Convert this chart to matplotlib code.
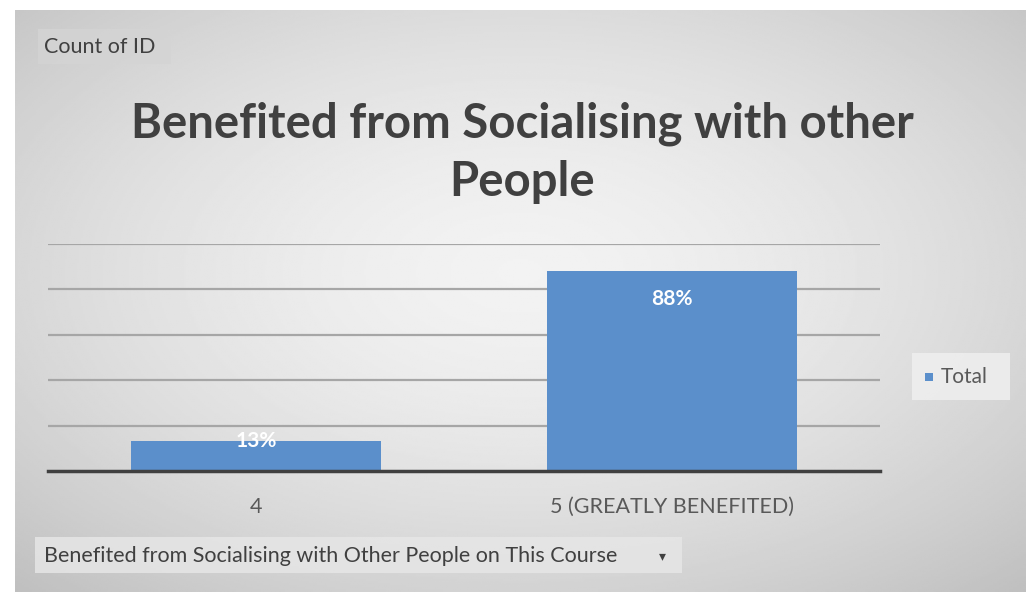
import numpy as np
import matplotlib
matplotlib.use("Agg")
import matplotlib.pyplot as plt
from matplotlib.patches import Rectangle

categories = ["4", "5 (GREATLY BENEFITED)"]
values = [13, 88]
series_name = "Total"
title = "Benefited from Socialising with other\nPeople"
field_button = "Count of ID"
filter_button = "Benefited from Socialising with Other People on This Course"

W, H = 1026, 597
fig = plt.figure(figsize=(W / 100, H / 100), dpi=100)
fig.patch.set_facecolor("white")

def fx(px):
    return px / W

def fy(py):
    return 1 - py / H

# gradient panel
bg = fig.add_axes([fx(15), fy(592), 1 - fx(15), (592 - 10) / H])
bg.set_axis_off()
yy, xx = np.mgrid[0:1:300j, 0:1:500j]
r = np.sqrt(((xx - 0.5) / 0.62) ** 2 + ((yy - 0.45) / 0.62) ** 2)
img = 0.95 - 0.15 * np.clip(r, 0, 1.2) ** 1.6
bg.imshow(img, cmap="gray", vmin=0, vmax=1, aspect="auto", extent=[0, 1, 0, 1])
bg.set_xlim(0, 1)
bg.set_ylim(0, 1)

plt.rcParams["font.family"] = ["Lato", "DejaVu Sans"]

ax = fig.add_axes([fx(48), fy(471), fx(880) - fx(48), (471 - 244) / H])
ax.patch.set_alpha(0)
x = np.arange(len(categories))
bars = ax.bar(x, values, width=0.6, color="#5B8FCB", zorder=3, label=series_name)
ax.set_xlim(-0.5, len(categories) - 0.5)
ax.set_ylim(0, 100)
ax.set_yticks([20, 40, 60, 80, 100])
ax.yaxis.grid(True, color="#a6a6a6", linewidth=1.6, zorder=0)
ax.tick_params(axis="y", left=False, labelleft=False)
ax.tick_params(axis="x", bottom=False, pad=15, labelsize=15.5, labelcolor="#595959")
ax.set_xticks(x)
ax.set_xticklabels(categories)
for s in ["top", "right", "left"]:
    ax.spines[s].set_visible(False)
ax.spines["bottom"].set_color("#404040")
ax.spines["bottom"].set_linewidth(2.5)
ax.spines["bottom"].set_zorder(4)

for b, v in zip(bars, values):
    cx = b.get_x() + b.get_width() / 2
    if v >= 20:
        ax.annotate(f"{v}%", (cx, v), xytext=(0, -20), textcoords="offset points",
                    ha="center", va="center", color="white", fontsize=15,
                    fontweight="bold", zorder=5)
    else:
        ax.annotate(f"{v}%", (cx, v), xytext=(0, 0), textcoords="offset points",
                    ha="center", va="center", color="white", fontsize=15,
                    fontweight="bold", zorder=5)

fig.text(fx(522), fy(153), title, ha="center", va="center", fontsize=34,
         fontweight="bold", color="#404040", linespacing=1.4)

# field button
fig.patches.append(Rectangle((fx(38), fy(64)), fx(133), (64 - 29) / H,
                             transform=fig.transFigure, facecolor="#d4d4d4",
                             edgecolor="none", alpha=0.8))
fig.text(fx(44), fy(47), field_button, ha="left", va="center", fontsize=15.5,
         color="#404040")

# filter button
fig.patches.append(Rectangle((fx(35), fy(573)), fx(647), (573 - 537) / H,
                             transform=fig.transFigure, facecolor="#e6e6e6",
                             edgecolor="none", alpha=0.85))
fig.text(fx(44), fy(556), filter_button, ha="left", va="center", fontsize=15.5,
         color="#404040")
fig.text(fx(662), fy(556), "\u25BE", ha="center", va="center", fontsize=10,
         color="#404040", family="DejaVu Sans")

# legend
fig.patches.append(Rectangle((fx(912), fy(400)), fx(98), (400 - 353) / H,
                             transform=fig.transFigure, facecolor="#eeeeee",
                             edgecolor="none", alpha=0.9))
fig.patches.append(Rectangle((fx(925), fy(381)), fx(8), 8 / H,
                             transform=fig.transFigure, facecolor="#5B8FCB",
                             edgecolor="none"))
fig.text(fx(941), fy(377), series_name, ha="left", va="center", fontsize=15,
         color="#595959")

fig.savefig("out.png", dpi=100)
